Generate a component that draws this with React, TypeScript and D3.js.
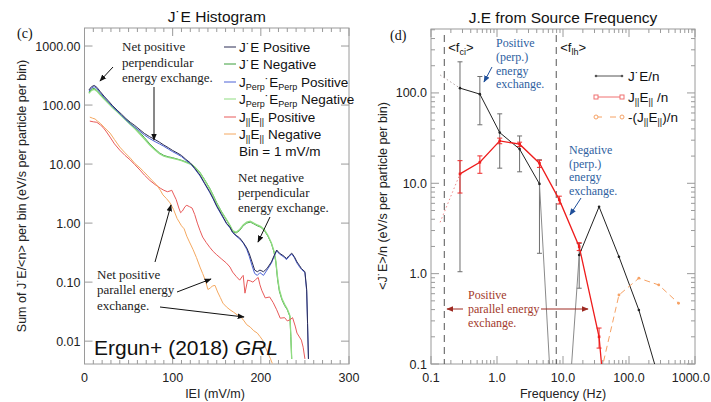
import React from 'react';
import * as d3 from 'd3';

// ---------- Panel (c) data: [|E| (mV/m), sum J.E/<n>] ----------
const jePos: [number, number][] = [[5,180],[8,205],[11,215],[14,200],[18,168],[22,142],[27,118],[32,97],[37,82],[42,70],[47,59],[52,51],[57,45],[63,38],[68,33],[74,29],[80,26],[85,23.5],[90,21],[95,19],[100,17],[105,15.5],[110,14],[115,12],[120,10.5],[125,8.5],[131,6.5],[136,4.8],[142,3.4],[146,2.6],[150,1.95],[155,1.45],[161,1.0],[165,0.85],[168,0.7],[172,0.62],[176,0.56],[180,0.47],[184,0.38],[187,0.3],[190,0.22],[193,0.16],[196,0.15],[199,0.16],[203,0.15],[207,0.17],[212,0.22],[215,0.28],[218,0.35],[221,0.31],[224,0.29],[227,0.27],[229,0.25],[232,0.28],[235,0.31],[238,0.27],[241,0.22],[244,0.19],[246,0.17],[250,0.15],[252,0.075],[253,0.02],[254,0.005]];
const jeNeg: [number, number][] = [[5,165],[8,185],[11,192],[14,178],[18,152],[22,130],[27,110],[32,92],[37,79],[42,67],[47,57],[52,49],[57,42],[63,34],[68,28],[74,22],[80,18],[85,15.5],[90,14],[95,13.3],[100,12.8],[105,12.2],[110,11.6],[115,10.9],[120,10.2],[125,9],[131,7.2],[136,5.5],[142,3.9],[146,2.95],[150,2.2],[155,1.6],[160,1.2],[165,0.9],[168,0.72],[172,0.68],[176,0.75],[180,0.9],[184,1.0],[188,1.04],[192,0.97],[196,0.9],[200,0.85],[204,0.75],[208,0.6],[212,0.45],[215,0.32],[217,0.22],[219,0.11],[221,0.07],[224,0.05],[227,0.04],[230,0.034],[233,0.026],[234,0.012],[235,0.005]];
const perpPos: [number, number][] = [[5,172],[8,195],[11,205],[14,190],[18,160],[22,136],[27,113],[32,93],[37,79],[42,67],[47,56],[52,48],[57,42],[63,36],[68,31],[74,27],[80,24],[85,22],[90,20],[95,18],[100,16.2],[105,14.8],[110,13.4],[115,11.6],[120,10.2],[125,8.3],[131,6.3],[136,4.7],[142,3.3],[146,2.55],[150,1.9],[155,1.4],[161,0.98],[165,0.83],[168,0.69],[172,0.6],[176,0.54],[180,0.46],[184,0.36],[187,0.27],[190,0.19],[193,0.14],[196,0.13],[199,0.145],[203,0.13],[207,0.16],[212,0.21],[215,0.27],[218,0.34],[221,0.3],[224,0.28],[227,0.26],[229,0.24],[232,0.27],[235,0.3],[238,0.26],[241,0.21],[244,0.18],[246,0.165],[250,0.145],[252,0.07],[253,0.02],[254,0.005]];
const perpNeg: [number, number][] = [[5,158],[8,178],[11,185],[14,172],[18,148],[22,127],[27,107],[32,90],[37,77],[42,65],[47,55],[52,47],[57,40],[63,32],[68,26.5],[74,21],[80,17.3],[85,15],[90,13.6],[95,13],[100,12.5],[105,12],[110,11.4],[115,10.7],[120,10],[125,8.9],[131,7.1],[136,5.4],[142,3.8],[146,2.9],[150,2.15],[155,1.58],[160,1.22],[165,0.92],[168,0.75],[172,0.7],[176,0.78],[180,0.93],[184,1.04],[188,1.08],[192,1.0],[196,0.93],[200,0.87],[204,0.77],[208,0.62],[212,0.46],[215,0.33],[217,0.23],[219,0.12],[221,0.075],[224,0.052],[227,0.042],[230,0.035],[233,0.027],[234,0.013],[235,0.005]];
const parPos: [number, number][] = [[6,53.5],[10,52],[14,51],[18,46],[21,42],[25,35],[29,28.6],[34,22],[40,17.2],[46,14],[52,11.7],[57,9.8],[63,7.9],[68,6.5],[74,5.3],[80,4.5],[86,3.9],[90,3.6],[94,3.4],[97,3.5],[99,3.6],[101,3.1],[104,2.5],[107,1.8],[109,1.5],[111,1.6],[114,1.9],[116,2.0],[119,1.9],[122,1.8],[125,1.4],[128,1.0],[131,0.75],[134,0.58],[138,0.47],[142,0.39],[146,0.33],[150,0.29],[155,0.25],[161,0.21],[165,0.18],[168,0.148],[172,0.125],[176,0.108],[179,0.125],[180,0.13],[182,0.065],[185,0.108],[188,0.105],[191,0.1],[194,0.11],[197,0.12],[199,0.09],[201,0.073],[205,0.054],[210,0.056],[214,0.045],[218,0.034],[222,0.0245],[227,0.025],[230,0.022],[233,0.023],[236,0.025],[239,0.018],[241,0.0137],[246,0.0104],[248,0.0079],[250,0.005]];
const parNeg: [number, number][] = [[6,62.5],[9,60],[12,58],[15,53],[18,49],[23,41],[29,33.5],[34,26],[40,19.4],[46,15.5],[52,12.6],[57,10.3],[63,8.6],[67,7.5],[71,6.5],[76,5.4],[82,4.4],[86,3.6],[89,3.0],[93,2.6],[97,2.2],[101,1.7],[105,1.2],[110,0.9],[113,0.8],[116,0.6],[119,0.48],[123,0.36],[127,0.26],[131,0.18],[134,0.14],[137,0.108],[140,0.075],[143,0.08],[145,0.086],[148,0.088],[151,0.068],[154,0.055],[157,0.044],[161,0.038],[165,0.034],[169,0.031],[173,0.028],[178,0.025],[181,0.022],[184,0.019],[188,0.0173],[192,0.015],[196,0.0137],[199,0.012],[202,0.0104],[205,0.008],[208,0.0063],[211,0.005],[213,0.0042]];

const yTicksL = [1000, 100, 10, 1, 0.1, 0.01];
const yTickLabelsL = ['1000.00', '100.00', '10.00', '1.00', '0.10', '0.01'];
const xTicksL = [0, 100, 200, 300];

// ---------- Panel (d) data ----------
const freqs = [0.1375, 0.275, 0.55, 1.1, 2.2, 4.4, 8.8, 17.6, 35.2, 70.4, 141, 282, 563];
const jeN = [158, 113, 97, 36.4, 23.9, 9.85, 0.0011, 1.61, 5.5, 1.54, 0.396, 0.07, NaN];
const jeNHi = [NaN, 221, 152, 58.7, 33.4, 18.2, NaN, 2.16, NaN, NaN, NaN, NaN, NaN];
const jeNLo = [NaN, 1.05, 44.4, 14.7, 13.4, 1.68, NaN, 0.69, NaN, NaN, NaN, NaN, NaN];
const parN = [3.7, 12.7, 17.1, 29.5, 27.1, 16.7, 6.55, 1.99, 0.2, 0.0007, NaN, NaN, NaN];
const parNHi = [NaN, 17.8, 20.1, 31.6, 28.5, 18.0, 7.2, 2.2, 0.25, NaN, NaN, NaN, NaN];
const parNLo = [NaN, 7.8, 12.9, 27.4, 25.5, 15.0, 5.9, 1.8, 0.15, NaN, NaN, NaN, NaN];
const negParN = [NaN, NaN, NaN, NaN, NaN, NaN, NaN, NaN, 0.065, 0.58, 0.89, 0.75, 0.47];
const fci = 0.159;
const flh = 7.9;
const xTicksR = [0.1, 1, 10, 100, 1000];
const xTickLabelsR = ['0.1', '1.0', '10.0', '100.0', '1000.0'];
const yTicksR = [0.1, 1, 10, 100];
const yTickLabelsR = ['0.1', '1.0', '10.0', '100.0'];

const SANS = 'Liberation Sans, Arial, Helvetica, sans-serif';
const SERIF = 'Liberation Serif, Times New Roman, serif';
const AX = '#9a9a9a';

const L = { x0: 84.5, x1: 349, y0: 28, y1: 364 };
const R = { x0: 431, x1: 695, y0: 29, y1: 364 };

const xL = d3.scaleLinear().domain([0, 300]).range([L.x0, L.x1]);
const yL = d3.scaleLog().domain([0.0041, 2020]).range([L.y1, L.y0]);
const xR = d3.scaleLog().domain([0.1, 1000]).range([R.x0, R.x1]);
const yR = d3.scaleLog().domain([0.1, 510]).range([R.y1, R.y0]);

const lineL = d3.line<[number, number]>().x(d => xL(d[0])).y(d => yL(d[1]));

function seriesPts(vals: number[], from = 0, to = vals.length - 1) {
  const out: [number, number][] = [];
  for (let i = from; i <= to; i++) if (!isNaN(vals[i])) out.push([xR(freqs[i]), yR(vals[i])]);
  return out;
}
const lineR = d3.line<[number, number]>();

const leftSeries = [
  { data: jeNeg, color: '#3a9e3a', w: 1 },
  { data: perpNeg, color: '#8fdc80', w: 1.3 },
  { data: perpPos, color: '#4c62d6', w: 1 },
  { data: jePos, color: '#2b2d55', w: 1 },
  { data: parPos, color: '#e85a5a', w: 1 },
  { data: parNeg, color: '#f4a860', w: 1 },
];

function Sub({ t, fs }: { t: string; fs: number }) {
  return <tspan fontSize={fs} dy={3}>{t}</tspan>;
}

export default function App() {
  const xMinorL = d3.range(0, 301, 10);
  const xMinorR: number[] = [];
  [0.1, 1, 10, 100].forEach(d => { for (let k = 1; k <= 9; k++) xMinorR.push(d * k); });
  xMinorR.push(1000);
  const yMinorR: number[] = [];
  [0.1, 1, 10, 100].forEach(d => { for (let k = 1; k <= 9; k++) if (d * k <= 510) yMinorR.push(d * k); });

  const legL = [
    { c: '#2b2d55', t: <>J˙E Positive</> },
    { c: '#3a9e3a', t: <>J˙E Negative</> },
    { c: '#4c62d6', t: <>J<Sub t="Perp" fs={9} /><tspan dy={-3}>˙E</tspan><Sub t="Perp" fs={9} /><tspan dy={-3}> Positive</tspan></> },
    { c: '#8fdc80', t: <>J<Sub t="Perp" fs={9} /><tspan dy={-3}>˙E</tspan><Sub t="Perp" fs={9} /><tspan dy={-3}> Negative</tspan></> },
    { c: '#e85a5a', t: <>J<Sub t="||" fs={9} /><tspan dy={-3}>E</tspan><Sub t="||" fs={9} /><tspan dy={-3}> Positive</tspan></> },
    { c: '#f4a860', t: <>J<Sub t="||" fs={9} /><tspan dy={-3}>E</tspan><Sub t="||" fs={9} /><tspan dy={-3}> Negative</tspan></> },
  ];
  const legY = [47, 64, 82, 99, 117, 134];

  const errBar = (i: number, hi: number[], lo: number[], color: string) => {
    if (isNaN(hi[i])) return null;
    const x = xR(freqs[i]);
    const y1 = yR(hi[i]);
    const y2 = yR(lo[i]);
    return (
      <g key={color + i} stroke={color} strokeWidth={1}>
        <line x1={x} x2={x} y1={y1} y2={y2} />
        <line x1={x - 2.5} x2={x + 2.5} y1={y1} y2={y1} />
        <line x1={x - 2.5} x2={x + 2.5} y1={y2} y2={y2} />
      </g>
    );
  };

  return (
    <svg width={711} height={402} style={{ position: 'absolute', left: 0, top: 0, background: '#fff' }} fontFamily={SANS}>
      <defs>
        <clipPath id="clipL"><rect x={L.x0} y={L.y0} width={L.x1 - L.x0} height={L.y1 - L.y0} /></clipPath>
        <clipPath id="clipR"><rect x={R.x0} y={R.y0} width={R.x1 - R.x0} height={R.y1 - R.y0} /></clipPath>
        <marker id="ahK" viewBox="0 0 10 10" refX={9} refY={5} markerWidth={7} markerHeight={7} orient="auto-start-reverse" markerUnits="userSpaceOnUse">
          <path d="M0,1 L10,5 L0,9 Z" fill="#111" />
        </marker>
        <marker id="ahB" viewBox="0 0 10 10" refX={9} refY={5} markerWidth={7} markerHeight={7} orient="auto-start-reverse" markerUnits="userSpaceOnUse">
          <path d="M0,1 L10,5 L0,9 Z" fill="#1f4f9a" />
        </marker>
        <marker id="ahR" viewBox="0 0 10 10" refX={9} refY={5} markerWidth={7} markerHeight={7} orient="auto-start-reverse" markerUnits="userSpaceOnUse">
          <path d="M0,1 L10,5 L0,9 Z" fill="#9e2a22" />
        </marker>
      </defs>

      {/* ================= Panel (c) ================= */}
      <text x={(L.x0 + L.x1) / 2} y={22} textAnchor="middle" fontSize={15.5} fill="#111">J˙E Histogram</text>
      <text x={17} y={38} fontFamily={SERIF} fontSize={14} fill="#111">(c)</text>
      <rect x={L.x0} y={L.y0} width={L.x1 - L.x0} height={L.y1 - L.y0} fill="none" stroke={AX} strokeWidth={1} />
      {xMinorL.map(v => {
        const major = v % 100 === 0;
        const len = major ? 8 : 4;
        return (
          <g key={'xl' + v} stroke={AX}>
            <line x1={xL(v)} x2={xL(v)} y1={L.y1} y2={L.y1 - len} />
            <line x1={xL(v)} x2={xL(v)} y1={L.y0} y2={L.y0 + len} />
          </g>
        );
      })}
      {yTicksL.map((v, i) => (
        <g key={'yl' + v}>
          <line x1={L.x0} x2={L.x0 + 8} y1={yL(v)} y2={yL(v)} stroke={AX} />
          <line x1={L.x1} x2={L.x1 - 8} y1={yL(v)} y2={yL(v)} stroke={AX} />
          <text x={L.x0 - 4} y={yL(v) + 4.5} textAnchor="end" fontSize={12.5} fill="#222">{yTickLabelsL[i]}</text>
        </g>
      ))}
      {xTicksL.map(v => (
        <text key={'xlt' + v} x={xL(v)} y={382} textAnchor="middle" fontSize={12.5} fill="#222">{v}</text>
      ))}
      <text x={215} y={398} textAnchor="middle" fontSize={12.5} fill="#222">IEI (mV/m)</text>
      <text transform="translate(26,196) rotate(-90)" textAnchor="middle" fontSize={12.5} fill="#222">Sum of J˙E/&lt;n&gt; per bin (eV/s per particle per bin)</text>

      <g clipPath="url(#clipL)" fill="none">
        {leftSeries.map((s, i) => (
          <path key={'ls' + i} d={lineL(s.data) || ''} stroke={s.color} strokeWidth={s.w} />
        ))}
      </g>

      {/* legend (c) */}
      {legL.map((l, i) => (
        <g key={'lg' + i}>
          <line x1={224} x2={236} y1={legY[i]} y2={legY[i]} stroke={l.c} strokeWidth={1} />
          <text x={239} y={legY[i] + 4.5} fontSize={13.5} fill="#111">{l.t}</text>
        </g>
      ))}
      <text x={239} y={156} fontSize={13.5} fill="#111">Bin = 1 mV/m</text>

      {/* annotations (c) */}
      <g fontFamily={SERIF} fontSize={13} fill="#222">
        <text x={122} y={51}>Net positive</text>
        <text x={122} y={67}>perpendicular</text>
        <text x={122} y={82}>energy exchange.</text>
        <text x={238} y={182}>Net negative</text>
        <text x={238} y={197}>perpendicular</text>
        <text x={238} y={212}>energy exchange.</text>
        <text x={97} y={279}>Net positive</text>
        <text x={97} y={294}>parallel energy</text>
        <text x={97} y={310}>exchange.</text>
      </g>
      <g stroke="#111" strokeWidth={1}>
        <line x1={113} y1={67} x2={100} y2={81} markerEnd="url(#ahK)" />
        <line x1={154} y1={87} x2={154} y2={140} markerEnd="url(#ahK)" />
        <line x1={270} y1={217} x2={258} y2={242} markerEnd="url(#ahK)" />
        <line x1={155} y1={262} x2={171} y2={205} markerEnd="url(#ahK)" />
        <line x1={177} y1={292} x2={211} y2={279} markerEnd="url(#ahK)" />
        <line x1={160} y1={307} x2={244} y2={317} markerEnd="url(#ahK)" />
      </g>
      <text x={94} y={355} fontSize={21} fill="#111">Ergun+ (2018) <tspan fontStyle="italic">GRL</tspan></text>

      {/* ================= Panel (d) ================= */}
      <text x={(R.x0 + R.x1) / 2} y={23} textAnchor="middle" fontSize={15.5} fill="#111">J.E from Source Frequency</text>
      <text x={390} y={40} fontFamily={SERIF} fontSize={14} fill="#111">(d)</text>
      <rect x={R.x0} y={R.y0} width={R.x1 - R.x0} height={R.y1 - R.y0} fill="none" stroke={AX} strokeWidth={1} />
      {xMinorR.map((v, i) => {
        const major = xTicksR.some(t => Math.abs(t - v) / t < 1e-6);
        const len = major ? 8 : 4;
        return (
          <g key={'xr' + i} stroke={AX}>
            <line x1={xR(v)} x2={xR(v)} y1={R.y1} y2={R.y1 - len} />
            <line x1={xR(v)} x2={xR(v)} y1={R.y0} y2={R.y0 + len} />
          </g>
        );
      })}
      {yMinorR.map((v, i) => {
        const major = yTicksR.some(t => Math.abs(t - v) / t < 1e-6);
        const len = major ? 8 : 4;
        return (
          <g key={'yr' + i} stroke={AX}>
            <line x1={R.x0} x2={R.x0 + len} y1={yR(v)} y2={yR(v)} />
            <line x1={R.x1} x2={R.x1 - len} y1={yR(v)} y2={yR(v)} />
          </g>
        );
      })}
      {yTicksR.map((v, i) => (
        <text key={'yrt' + v} x={R.x0 - 4} y={yR(v) + 4.5} textAnchor="end" fontSize={12.5} fill="#222">{yTickLabelsR[i]}</text>
      ))}
      {xTicksR.map((v, i) => {
        const last = i === xTicksR.length - 1;
        return (
          <text key={'xrt' + v} x={last ? 710 : xR(v)} y={382} textAnchor={last ? 'end' : 'middle'} fontSize={12.5} fill="#222">{xTickLabelsR[i]}</text>
        );
      })}
      <text x={563} y={398} textAnchor="middle" fontSize={12.5} fill="#222">Frequency (Hz)</text>
      <text transform="translate(387,196) rotate(-90)" textAnchor="middle" fontSize={12.5} fill="#222">&lt;J˙E&gt;/n (eV/s per particle per bin)</text>

      {/* frequency markers */}
      <g stroke="#555" strokeDasharray="7,5" strokeWidth={1}>
        <line x1={xR(fci)} x2={xR(fci)} y1={R.y0 + 6} y2={R.y1} />
        <line x1={xR(flh)} x2={xR(flh)} y1={R.y0 + 6} y2={R.y1} />
      </g>
      <text x={xR(fci) + 4} y={52} fontSize={13} fill="#111">&lt;f<Sub t="ci" fs={9} /><tspan dy={-3}>&gt;</tspan></text>
      <text x={xR(flh) + 4} y={52} fontSize={13} fill="#111">&lt;f<Sub t="lh" fs={9} /><tspan dy={-3}>&gt;</tspan></text>

      <g clipPath="url(#clipR)" fill="none">
        {freqs.map((_, i) => errBar(i, jeNHi, jeNLo, '#6e6e6e'))}
        {freqs.map((_, i) => errBar(i, parNHi, parNLo, '#ee2a2a'))}
        <path d={lineR(seriesPts(jeN, 0, 1)) || ''} stroke="#b0a0a0" strokeWidth={1} strokeDasharray="1.5,2.5" />
        <path d={lineR(seriesPts(parN, 0, 1)) || ''} stroke="#f08a8a" strokeWidth={1} strokeDasharray="1.5,2.5" />
        <path d={lineR(seriesPts(jeN, 1, 5)) || ''} stroke="#222" strokeWidth={1} />
        <path d={lineR(seriesPts(jeN, 5, 7)) || ''} stroke="#8a8a8a" strokeWidth={1} />
        <path d={lineR(seriesPts(jeN, 7, 12)) || ''} stroke="#222" strokeWidth={1} />
        <path d={lineR(seriesPts(parN, 1, 12)) || ''} stroke="#ee1c1c" strokeWidth={1.3} />
        <path d={lineR(seriesPts(negParN)) || ''} stroke="#f6a265" strokeWidth={1} strokeDasharray="6,4" />
        {seriesPts(jeN, 1, 12).map((p, i) => <circle key={'jd' + i} cx={p[0]} cy={p[1]} r={1.3} fill="#222" />)}
        {seriesPts(parN, 1, 12).map((p, i) => <rect key={'pd' + i} x={p[0] - 1.3} y={p[1] - 1.3} width={2.6} height={2.6} fill="#ee1c1c" />)}
        {seriesPts(negParN).map((p, i) => <circle key={'nd' + i} cx={p[0]} cy={p[1]} r={1.4} fill="#f6a265" />)}
      </g>

      {/* legend (d) */}
      <g>
        <line x1={596} x2={622} y1={76} y2={76} stroke="#555" strokeWidth={1} />
        <circle cx={596} cy={76} r={1.3} fill="#555" />
        <circle cx={622} cy={76} r={1.3} fill="#555" />
        <text x={628} y={80.5} fontSize={13.5} fill="#111">J˙E/n</text>
        <line x1={596} x2={622} y1={97} y2={97} stroke="#f07070" strokeWidth={1} />
        <rect x={594} y={95} width={4} height={4} fill="#fff" stroke="#f07070" />
        <rect x={620} y={95} width={4} height={4} fill="#fff" stroke="#f07070" />
        <text x={628} y={101.5} fontSize={13.5} fill="#111">J<Sub t="||" fs={9} /><tspan dy={-3}>E</tspan><Sub t="||" fs={9} /><tspan dy={-3}> /n</tspan></text>
        <line x1={596} x2={622} y1={117} y2={117} stroke="#f6a265" strokeWidth={1} strokeDasharray="6,8" />
        <circle cx={596} cy={117} r={2} fill="#fff" stroke="#f6a265" />
        <circle cx={622} cy={117} r={2} fill="#fff" stroke="#f6a265" />
        <text x={628} y={121.5} fontSize={13.5} fill="#111">-(J<Sub t="||" fs={9} /><tspan dy={-3}>E</tspan><Sub t="||" fs={9} /><tspan dy={-3}>)/n</tspan></text>
      </g>

      {/* annotations (d) */}
      <g fontFamily={SERIF} fontSize={12} fill="#2f5f9f">
        <text x={496} y={47}>Positive</text>
        <text x={496} y={61}>(perp.)</text>
        <text x={496} y={75}>energy</text>
        <text x={496} y={88}>exchange.</text>
        <text x={569} y={154}>Negative</text>
        <text x={569} y={168}>(perp.)</text>
        <text x={569} y={181}>energy</text>
        <text x={569} y={195}>exchange.</text>
      </g>
      <g stroke="#1f4f9a" strokeWidth={1}>
        <line x1={492} y1={67} x2={484} y2={82} markerEnd="url(#ahB)" />
        <line x1={581} y1={198} x2={570} y2={215} markerEnd="url(#ahB)" />
      </g>
      <g fontFamily={SERIF} fontSize={12} fill="#a33a2c">
        <text x={468} y={299}>Positive</text>
        <text x={468} y={313}>parallel energy</text>
        <text x={468} y={327}>exchange.</text>
      </g>
      <g stroke="#9e2a22" strokeWidth={1}>
        <line x1={463} y1={309} x2={447} y2={309} markerEnd="url(#ahR)" />
        <line x1={541} y1={309} x2={588} y2={309} markerEnd="url(#ahR)" />
      </g>
    </svg>
  );
}
